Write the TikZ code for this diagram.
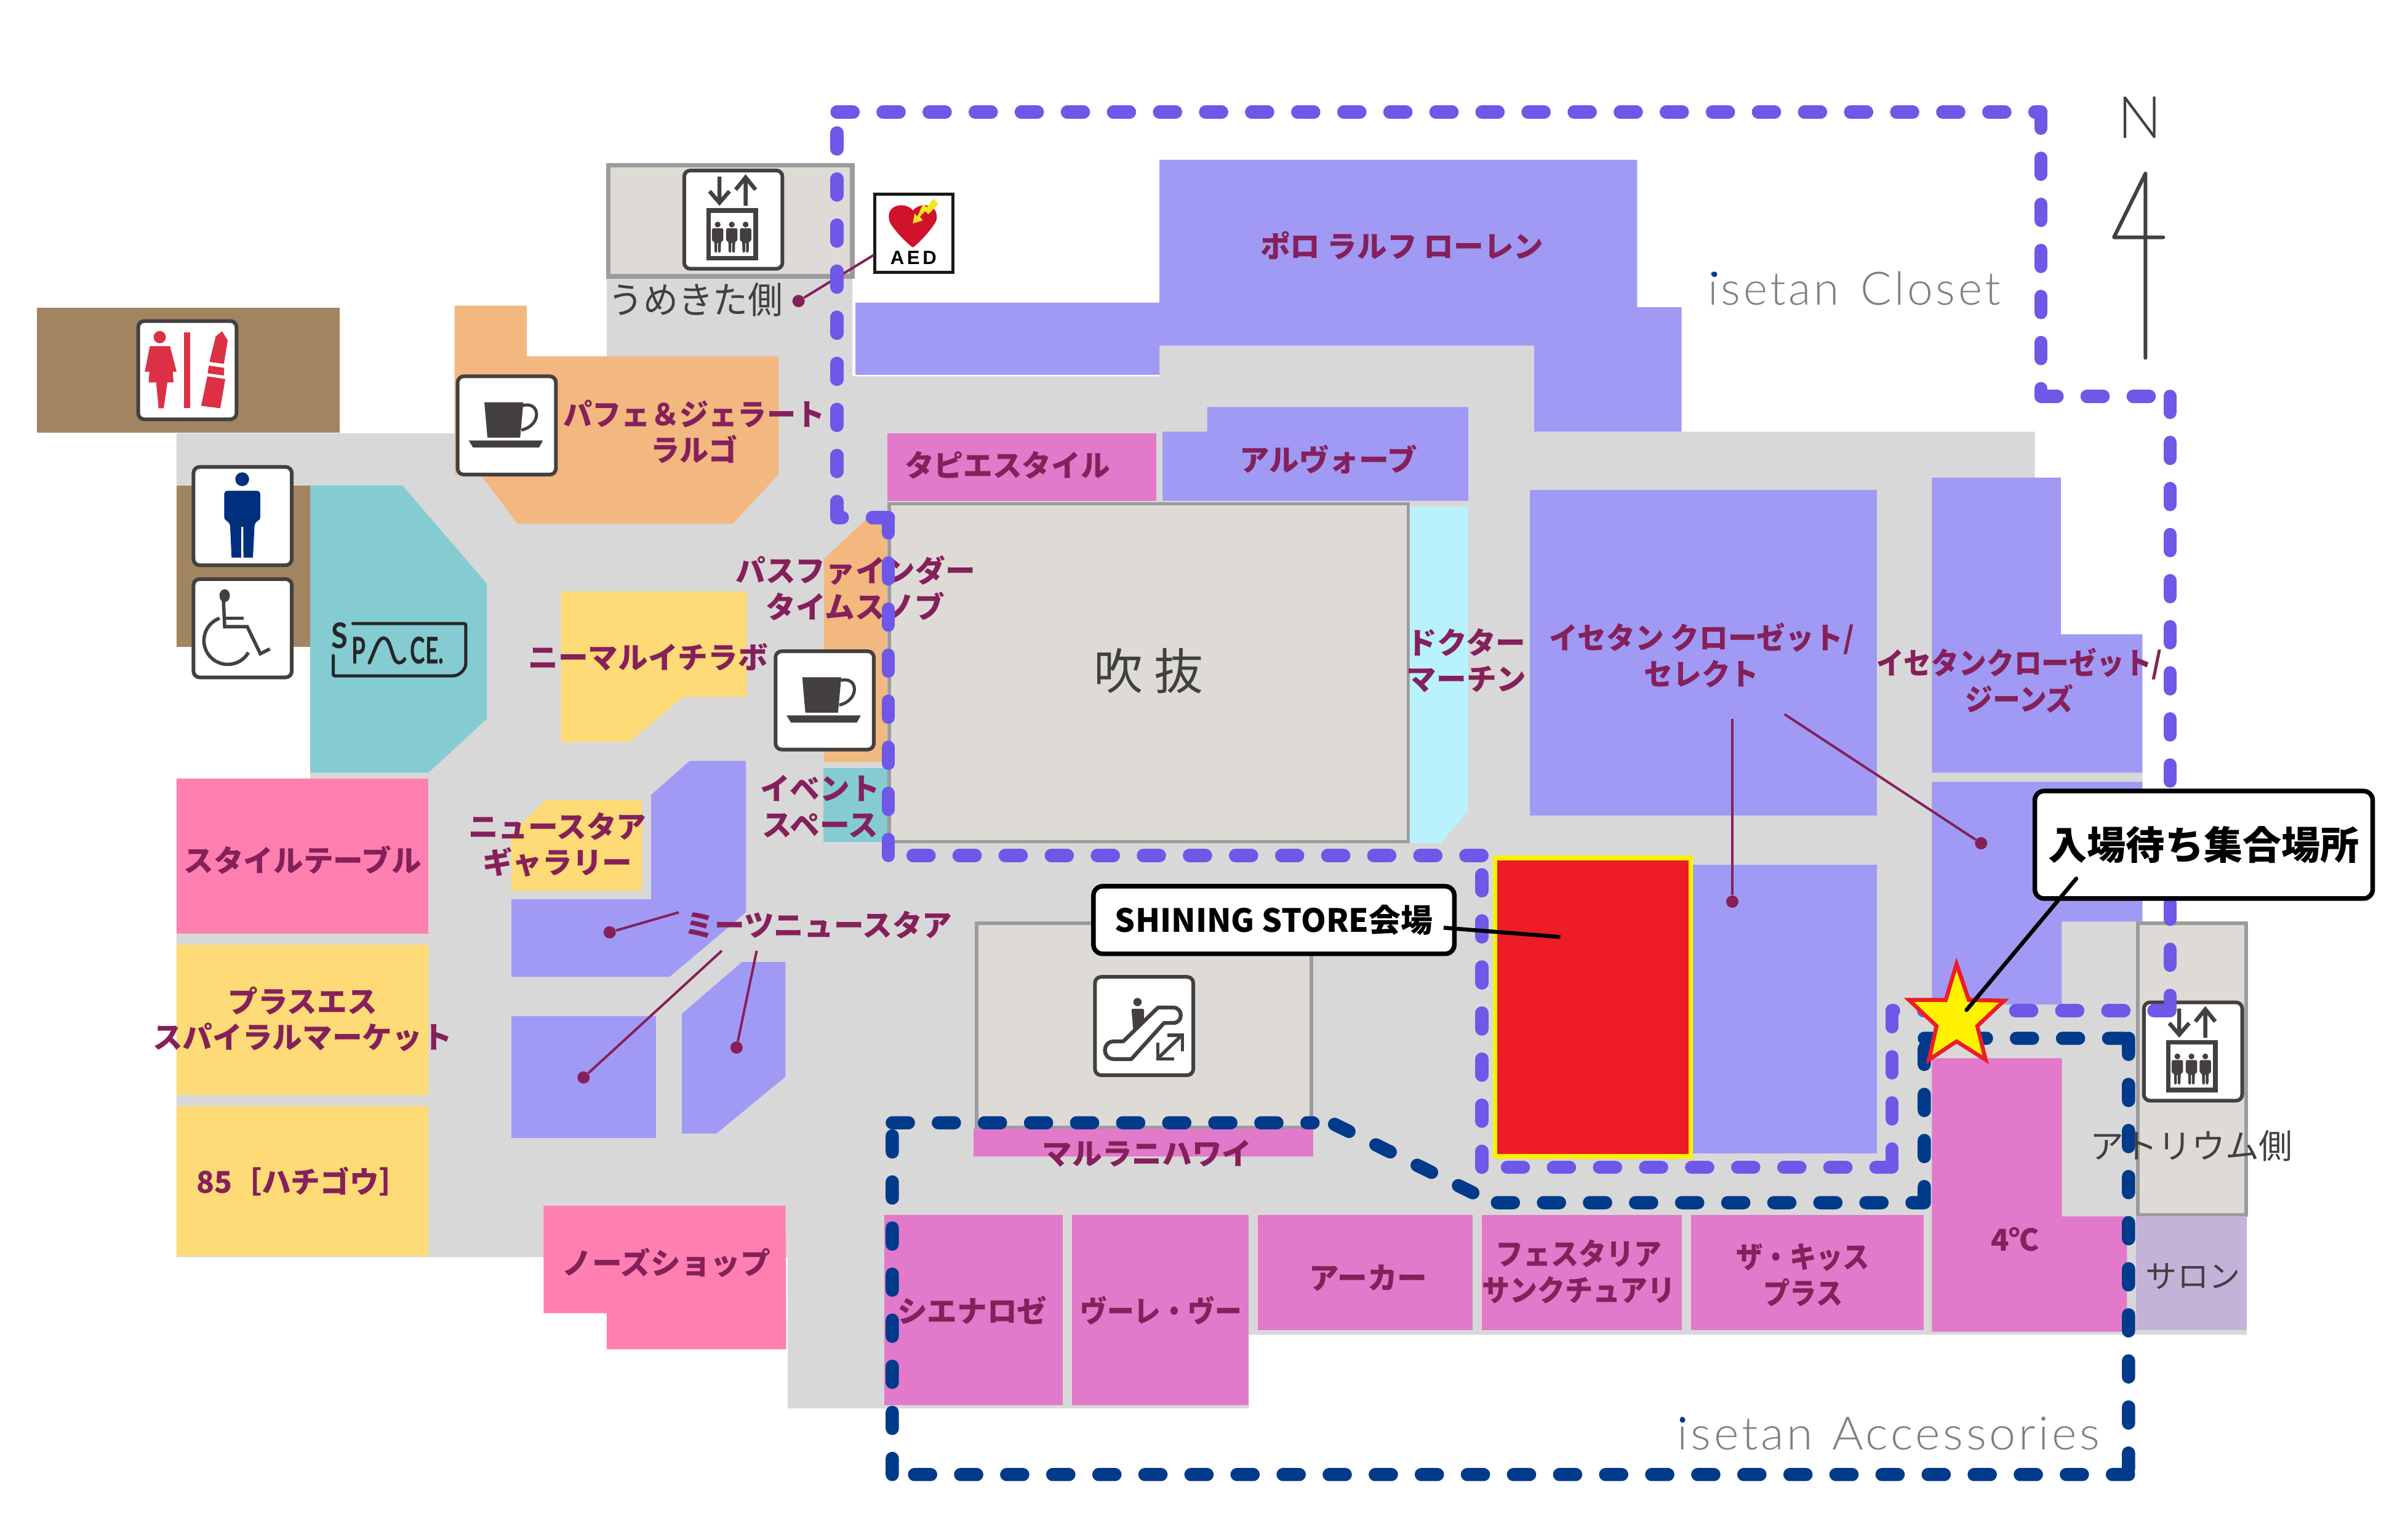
\documentclass[tikz,border=0pt]{standalone}
\usepackage{fontspec}
\usepackage{graphicx}
\newfontfamily\jp{Noto Sans CJK JP}
\newfontfamily\isefont[LetterSpace=6]{Lato Light}
\newfontfamily\latofont{Lato}
\newfontfamily\latolight{Lato Light}
\newfontfamily\libfont{Liberation Sans}
\definecolor{floorgray}{HTML}{D8D8D8}
\definecolor{purplefill}{HTML}{A09AF5}
\definecolor{magentafill}{HTML}{E279CA}
\definecolor{pinkfill}{HTML}{FF80B0}
\definecolor{yellowfill}{HTML}{FEDB76}
\definecolor{orangefill}{HTML}{F2B880}
\definecolor{tealfill}{HTML}{84CBD2}
\definecolor{brownfill}{HTML}{A08560}
\definecolor{voidfill}{HTML}{DEDBD6}
\definecolor{voidedge}{HTML}{9C9C9C}
\definecolor{labelcol}{HTML}{85205A}
\definecolor{darktext}{HTML}{404040}
\definecolor{icondark}{HTML}{444040}
\definecolor{dashpurple}{HTML}{6F57E8}
\definecolor{dashnavy}{HTML}{003A8A}
\definecolor{femalered}{HTML}{DC3045}
\definecolor{maleblue}{HTML}{002F7D}
\definecolor{salonfill}{HTML}{C4B3D9}
\definecolor{icegfill}{HTML}{B9F2FD}
\definecolor{redzone}{HTML}{EE1C25}
\definecolor{staryellow}{HTML}{FFF200}
\definecolor{isegray}{HTML}{808080}
\definecolor{aedred}{HTML}{D0122A}
\definecolor{aedyellow}{HTML}{F5E51B}
\tikzset{
  lbl/.style={text=labelcol,align=center,inner sep=0pt,font=\jp\bfseries\fontsize{19.5}{23.5}\selectfont},
  sqz/.style={transform shape,xscale=#1},
  dlbl/.style={text=darktext,align=center,inner sep=0pt,font=\jp\fontsize{22}{26}\selectfont},
  iconframe/.style={draw=icondark,line width=2.4pt,fill=white,rounded corners=4pt,minimum size=64pt,inner sep=0pt,outer sep=0pt,anchor=north west},
  dotnode/.style={circle,fill=labelcol,inner sep=0pt,minimum size=8pt},
  leader/.style={draw=labelcol,line width=1.6pt},
  purpdash/.style={draw=dashpurple,line width=8.6pt,line cap=round,dash pattern=on 10.5pt off 19.5pt},
  navydash/.style={draw=dashnavy,line width=8.6pt,line cap=round,dash pattern=on 10.5pt off 19.5pt},
  callout/.style={draw=black,line width=3pt,fill=white,rounded corners=6pt,inner sep=0pt,outer sep=0pt,font=\jp\bfseries},
  voidbox/.style={draw=voidedge,fill=voidfill,line width=2.2pt},
  isetxt/.style={text=isegray,inner sep=0pt,font=\isefont\fontsize{30}{34}\selectfont},
}
\newcommand{\persn}[1]{%
  \fill[icondark] (#1,36.2) circle (1.9pt);
  \fill[icondark,rounded corners=1pt] (#1-3.7,38.6) -- (#1+3.7,38.6) -- (#1+3.7,47) -- (#1+2.2,47) -- (#1+2,54.5) -- (#1+.3,54.5) -- (#1+.3,47.5) -- (#1-.3,47.5) -- (#1-.3,54.5) -- (#1-2,54.5) -- (#1-2.2,47) -- (#1-3.7,47) -- cycle;}
\newcommand{\elevicon}{%
  \draw[icondark,line width=2.6pt] (24,5) -- (24,21) (17.5,14.5) -- (24,22) -- (30.5,14.5);
  \draw[icondark,line width=2.6pt] (41,24) -- (41,6) (34.5,13.5) -- (41,5.5) -- (47.5,13.5);
  \draw[icondark,line width=3pt,fill=white] (17,27) rectangle (47.5,58);
  \persn{22.8}\persn{32}\persn{41}}
\newcommand{\cupicon}{%
  \fill[icondark] (18.4,17.9) -- (43.8,17.9) -- (41.7,41) -- (20.4,41) -- cycle;
  \draw[icondark,line width=2pt] (43.5,20) .. controls (55,17) and (56,33) .. (42.5,36);
  \fill[icondark] (8.2,42.8) -- (56.5,42.8) -- (54,47.4) -- (11,47.4) -- cycle;}
\begin{document}
\begin{tikzpicture}[x=1pt,y=-1pt]
\useasboundingbox (0,0) rectangle (1568,999);
% floor
\fill[floorgray] (115,282) -- (395,282) -- (395,180) -- (555,180) -- (555,245) -- (755,245) -- (755,225) -- (1000,225) -- (1000,281) -- (1325,281) -- (1325,413) -- (1395,413) -- (1395,600) -- (1463,600) -- (1463,869) -- (813,869) -- (813,917) -- (513,917) -- (513,818.5) -- (115,818.5) -- (115,507) -- (202,507) -- (202,421) -- (115,421) -- cycle;
% brown service areas
\fill[brownfill] (24,200.5) rectangle (221,281.5);
\fill[brownfill] (115,316) rectangle (202,421);
% voids
\draw[voidbox,line width=3pt] (396,107.5) rectangle (555,180);
\draw[voidbox] (579,328) rectangle (917,548);
\draw[voidbox] (636,601) rectangle (854,734);
\draw[voidbox] (1392,601) rectangle (1462.5,791);
% tenants
\fill[tealfill] (202,316) -- (262,316) -- (317,380) -- (317,468) -- (279,503) -- (202,503) -- cycle;
\fill[orangefill] (296,199) -- (343,199) -- (343,232) -- (507,232) -- (507,309) -- (477,341) -- (337,341) -- (313,309) -- (296,309) -- cycle;
\fill[orangefill] (536.5,364) -- (566,336) -- (577.5,336) -- (577.5,496) -- (536.5,496) -- cycle;
\fill[yellowfill] (365.5,385) -- (486,385) -- (486,453.6) -- (445,453.6) -- (410,483) -- (365.5,483) -- cycle;
\fill[tealfill] (536,500) rectangle (578,548);
\fill[purplefill] (449,495.4) -- (485.7,495.4) -- (485.7,594) -- (436,636) -- (333,636) -- (333,585.5) -- (424,585.5) -- (424,517.5) -- cycle;
\fill[yellowfill] (333,580) -- (418,580) -- (418,521) -- (355,521) -- (333,543) -- cycle;
\fill[purplefill] (333,661.6) rectangle (427,741);
\fill[purplefill] (444,660) -- (483,626.4) -- (511.5,626.4) -- (511.5,701) -- (466.5,738) -- (444,738) -- cycle;
\fill[pinkfill] (115,507) rectangle (279,608);
\fill[yellowfill] (115,615) rectangle (279,713);
\fill[yellowfill] (115,720) rectangle (279,818);
\fill[pinkfill] (354,785) -- (511.5,785) -- (512,878.5) -- (395,878.5) -- (395,855) -- (354,855) -- cycle;
\fill[magentafill] (576,791) rectangle (692,915);
\fill[magentafill] (698,791) rectangle (813,915);
\fill[magentafill] (819,791) rectangle (959,866);
\fill[magentafill] (965,791) rectangle (1095,866);
\fill[magentafill] (1101,791) rectangle (1252.5,866);
\fill[magentafill] (1258,689) -- (1342.6,689) -- (1342.6,792) -- (1385,792) -- (1385,867) -- (1258,867) -- cycle;
\fill[salonfill] (1391,792) rectangle (1463,866);
\fill[magentafill] (634,735) rectangle (855,753);
\fill[icegfill] (918,330) -- (956,330) -- (956,528) -- (938,549) -- (918,549) -- cycle;
\fill[purplefill] (755,104) -- (1066,104) -- (1066,200) -- (1095,200) -- (1095,281) -- (999,281) -- (999,225) -- (755,225) -- (755,244) -- (557,244) -- (557,197) -- (755,197) -- cycle;
\fill[magentafill] (578,282) rectangle (753,326);
\fill[purplefill] (757,281) -- (786,281) -- (786,265) -- (956,265) -- (956,326) -- (757,326) -- cycle;
\fill[purplefill] (996,319) rectangle (1222,531);
\fill[purplefill] (1258,311) -- (1342,311) -- (1342,413) -- (1395,413) -- (1395,503) -- (1258,503) -- cycle;
\fill[purplefill] (1258,509) -- (1395,509) -- (1395,600) -- (1342.5,600) -- (1342.5,654) -- (1258,654) -- cycle;
\fill[purplefill] (1102,563) rectangle (1222,751);
\draw[fill=redzone,draw=staryellow,line width=3pt] (973.5,558.5) rectangle (1101,753);
% labels
\node[lbl] (polo) at (913,160) {ポロ ラルフ ローレン};
\node[lbl,sqz=.98] (tapie) at (656,303) {タピエスタイル};
\node[lbl] (arvo) at (865,299) {アルヴォーブ};
\node[lbl,sqz=.97] (largo) at (452,281) {パフェ＆ジェラート\\ラルゴ};
\node[lbl] (path) at (557,383) {パスファインダー\\タイムスノブ};
\node[lbl] (niimaru) at (422,428) {ニーマルイチラボ};
\node[lbl] (event) at (534,525) {イベント\\スペース};
\node[lbl] (gallery) at (363,550) {ニュースタア\\ギャラリー};
\node[lbl] (meets) at (533,602) {ミーツニュースタア};
\node[lbl] (style) at (197,560) {スタイルテーブル};
\node[lbl] (plus) at (197,663.5) {プラスエス\\スパイラルマーケット};
\node[lbl,sqz=.98] (hachi) at (197,769) {85［ハチゴウ］};
\node[lbl] (nose) at (434,822) {ノーズショップ};
\node[lbl] (maru) at (747,751) {マルラニハワイ};
\node[lbl] (siena) at (633,853) {シエナロゼ};
\node[lbl,sqz=.9] (voule) at (756,853) {ヴーレ・ヴー};
\node[lbl] (arker) at (891,832) {アーカー};
\node[lbl,sqz=.925] (festa) at (1028,828) {フェスタリア\\サンクチュアリ};
\node[lbl,sqz=.89] (kiss) at (1174,830) {ザ・キッス\\プラス};
\node[lbl] (four) at (1312,807) {4℃};
\node[lbl] (dr) at (955,430) {ドクター\\マーチン};
\node[lbl,sqz=.96] (select) at (1108,426.5) {イセタン クローゼット/\\セレクト};
\node[lbl,sqz=.92] (jeans) at (1315,443) {イセタンクローゼット/\\ジーンズ};
\node[dlbl,font=\jp\fontsize{20.5}{24}\selectfont] (salon) at (1428,831) {サロン};
\node[dlbl] (atrium) at (1427,746) {アトリウム側};
\node[dlbl,font=\jp\fontsize{24}{28}\selectfont,sqz=.95] (umekita) at (453,195) {うめきた側};
\node[dlbl,font=\jp\fontsize{32}{36}\selectfont] (void) at (748,437) {吹 抜};
\node[isetxt,anchor=base west] (closet) at (1112,198.5) {isetan\hspace{14pt}Closet};
\node[isetxt,anchor=base west,sqz=1.035] (acc) at (1092,944) {isetan\hspace{12pt}Accessories};
\fill[dashnavy] (1116.4,178.6) circle (1.8pt);
\fill[dashnavy] (1095.6,924.5) circle (1.8pt);
\node[inner sep=0pt,text=darktext,font=\latolight\fontsize{38}{40}\selectfont,anchor=base] (north) at (1393.5,90) {N};
\draw[icondark,line width=2.4pt,line cap=round,line join=round] (1397,233) -- (1397,113) -- (1376.5,154.5) -- (1408.6,154.5);
% SPACE logo
\draw[black!85,line width=2pt,line cap=round,rounded corners=1pt] (229.8,406) -- (303.3,406) -- (303.3,431) .. controls (303.3,436) and (299,440) .. (294,440) -- (217,440) -- (217,426.8);
\node[inner sep=0pt,text=black!85,font=\latofont\bfseries\fontsize{23}{23}\selectfont,anchor=base] (logoS) at (221.3,422) {\scalebox{.85}[1]{S}};
\node[inner sep=0pt,text=black!85,font=\latofont\bfseries\fontsize{24}{24}\selectfont,anchor=base] (logoP) at (233.8,432) {\scalebox{.62}[1]{P}};
\draw[black!85,line width=2.2pt,line cap=round] (240.5,431.5) .. controls (244,424) and (246,415.4) .. (249.8,415.4) .. controls (255,415.4) and (255,431) .. (259.5,431.5) .. controls (262,431.5) and (263,430) .. (263.5,429);
\node[inner sep=0pt,text=black!85,font=\latofont\bfseries\fontsize{24}{24}\selectfont,anchor=base west] (logoCE) at (267,432) {\scalebox{.62}[1]{CE.}};
% icons
\node[iconframe] (wc) at (90,209) {};
\begin{scope}[shift={(89,208)}]
  \fill[femalered] (15,11.5) circle (4pt);
  \fill[femalered] (8.6,17.3) -- (21.7,17.3) -- (26,34) -- (23.5,34) -- (24,41) -- (20,41) -- (17.6,57.8) -- (14.3,57.8) -- (12.7,41) -- (7.8,41) -- (8.3,34) -- (5.3,34) -- cycle;
  \fill[femalered] (31,8.4) rectangle (34.9,57.8);
  \fill[femalered] (55.6,7.7) -- (59.3,13.5) -- (56.8,28.9) -- (47.4,27.6) -- (51.5,11) -- cycle;
  \fill[femalered] (47,30) -- (57,31.5) -- (56.8,36.5) -- (46.2,35) -- cycle;
  \fill[femalered] (46,37) -- (57.7,38.8) -- (54.4,57.8) -- (42,56.2) -- cycle;
\end{scope}
\node[iconframe] (man) at (126,304) {};
\begin{scope}[shift={(125,303)}]
  \fill[maleblue] (32.7,9) circle (4.5pt);
  \fill[maleblue,rounded corners=2pt] (21,16.5) -- (44.5,16.5) -- (44.5,36) -- (41.6,36) -- (40.8,40) -- (24.8,40) -- (23.8,36) -- (21,36) -- cycle;
  \fill[maleblue] (24.8,38) -- (32.1,38) -- (32,60) -- (25.8,60) -- cycle;
  \fill[maleblue] (33.4,38) -- (40.8,38) -- (39.7,60) -- (33.5,60) -- cycle;
\end{scope}
\node[iconframe] (wheel) at (126,377) {};
\begin{scope}[shift={(125,376)}]
  \fill[icondark] (21.3,11.8) ellipse (3.4pt and 4.2pt);
  \draw[icondark,line width=2.2pt] (20.5,15) -- (21.3,32) -- (36,32) -- (44.5,49.6) -- (50.7,46.5);
  \draw[icondark,line width=2.2pt] (21,26.6) -- (33.5,26.6);
  \draw[icondark,line width=2.2pt] (18,26.5) arc[start angle=110,end angle=330,radius=15.5pt];
\end{scope}
\node[iconframe] (cupA) at (298,245) {};
\begin{scope}[shift={(297,244)}] \cupicon \end{scope}
\node[iconframe] (cupB) at (505,424) {};
\begin{scope}[shift={(504,423)}] \cupicon \end{scope}
\node[iconframe] (elevA) at (445.5,111) {};
\begin{scope}[shift={(444.5,110)}] \elevicon \end{scope}
\node[iconframe] (elevB) at (1396,652.6) {};
\begin{scope}[shift={(1395,651.6)}] \elevicon \end{scope}
\node[iconframe] (esc) at (713,636) {};
\begin{scope}[shift={(712,635)}]
  \fill[icondark] (28.7,17.4) circle (2.7pt);
  \fill[icondark,rounded corners=1pt] (24.7,21.8) -- (33,21.8) -- (33,29.6) -- (26,36.5) -- cycle;
  \draw[icondark,line width=2.5pt,line join=round] (19.4,43) -- (42,21) -- (52,21) .. controls (58.5,21) and (58.5,31) .. (52,31) -- (46,31) -- (24.7,54.5) -- (13.4,54.5) .. controls (5.5,54.5) and (5.5,43) .. (13.4,43) -- cycle;
  \draw[icondark,line width=2.2pt] (42.5,53.5) -- (57,39.5);
  \draw[icondark,line width=2.2pt] (48,39) -- (58,39) -- (58,49.5);
  \draw[icondark,line width=2.2pt] (42,44) -- (42,54.5) -- (52.5,54.5);
\end{scope}
% AED
\node[draw=black!90,line width=2pt,fill=white,minimum size=51pt,inner sep=0pt,outer sep=0pt,anchor=north west] (aed) at (569.5,126.5) {};
\fill[aedred] (594.4,161) .. controls (592,160) and (579,147) .. (579,143) .. controls (577.5,136) and (583,133.6) .. (587,133.6) .. controls (590,133.6) and (593,135) .. (594.4,137) .. controls (596,135) and (599,133.6) .. (602,133.6) .. controls (606,133.6) and (611,136) .. (609.8,143) .. controls (609,147) and (597,160) .. (594.4,161) -- cycle;
\fill[aedyellow] (607.8,129.3) -- (611,133) -- (604.5,139.5) -- (602.5,137.5) -- (599,141) -- (601,143.5) -- (594.4,145.5) -- (595.5,139) -- (597.3,141) -- (601,133) -- (603.5,135) -- cycle;
\node[inner sep=0pt,font=\libfont\bfseries\fontsize{12.5}{13}\selectfont] (aedtxt) at (594.8,168) {A\hspace{1.8pt}E\hspace{1.8pt}D};
% leaders
\node[dotnode] (dA) at (520,196) {};
\coordinate (aedc) at (569,166);
\draw[leader] (aedc) -- (dA);
\node[dotnode] (dB) at (397,607) {};
\node[dotnode] (dC) at (380,701.5) {};
\node[dotnode] (dD) at (479.6,682) {};
\coordinate (mA) at (442,594);
\coordinate (mB) at (470,619);
\coordinate (mC) at (492.7,619);
\draw[leader] (mA) -- (dB);
\draw[leader] (mB) -- (dC);
\draw[leader] (mC) -- (dD);
\node[dotnode] (dE) at (1128,587) {};
\node[dotnode] (dF) at (1290,549) {};
\coordinate (sA) at (1128,468);
\coordinate (sB) at (1162,465);
\draw[leader] (sA) -- (dE);
\draw[leader] (sB) -- (dF);
% dashed zones
\draw[purpdash] (545,73) -- (1329,73) (1329,73) -- (1329,258) (1329,258) -- (1413,258) (1413,258) -- (1413,658) (1413,658) -- (1232,658) (1232,658) -- (1232,760) (1232,760) -- (965,760) (965,760) -- (965,557) (965,557) -- (578.5,557) (578.5,557) -- (578.5,337) (578.5,337) -- (545,337) (545,337) -- (545,73);
\draw[navydash] (581,731) -- (855,731) (869,732) -- (970,782) (975,783) -- (1253,783) (1253,783) -- (1253,676) (1253,676) -- (1386,676) (1386,676) -- (1386,960) (1386,960) -- (581,960) (581,960) -- (581,731);
% star and callouts
\node[callout,minimum width=235pt,minimum height=44pt,anchor=north west,font=\jp\bfseries\fontsize{20.8}{24}\selectfont] (shining) at (712,577) {SHINING STORE会場};
\node[callout,minimum width=220pt,minimum height=70pt,anchor=north west,font=\jp\bfseries\fontsize{25.3}{29}\selectfont] (gather) at (1325,515) {入場待ち集合場所};
\draw[fill=staryellow,draw=redzone,line width=2.6pt] (1274,627.5) -- (1282,651) -- (1305,651.5) -- (1287.5,668) -- (1293,690) -- (1274,678) -- (1256,690) -- (1261,668) -- (1243,651) -- (1267,651) -- cycle;
\coordinate (gA) at (1352,572);
\coordinate (gB) at (1280.5,657.6);
\draw[black,line width=2.6pt,line cap=round] (gA) -- (gB);
\coordinate (shA) at (940,604);
\coordinate (shB) at (1016,610);
\draw[black,line width=2.6pt] (shA) -- (shB);
\end{tikzpicture}
\end{document}
